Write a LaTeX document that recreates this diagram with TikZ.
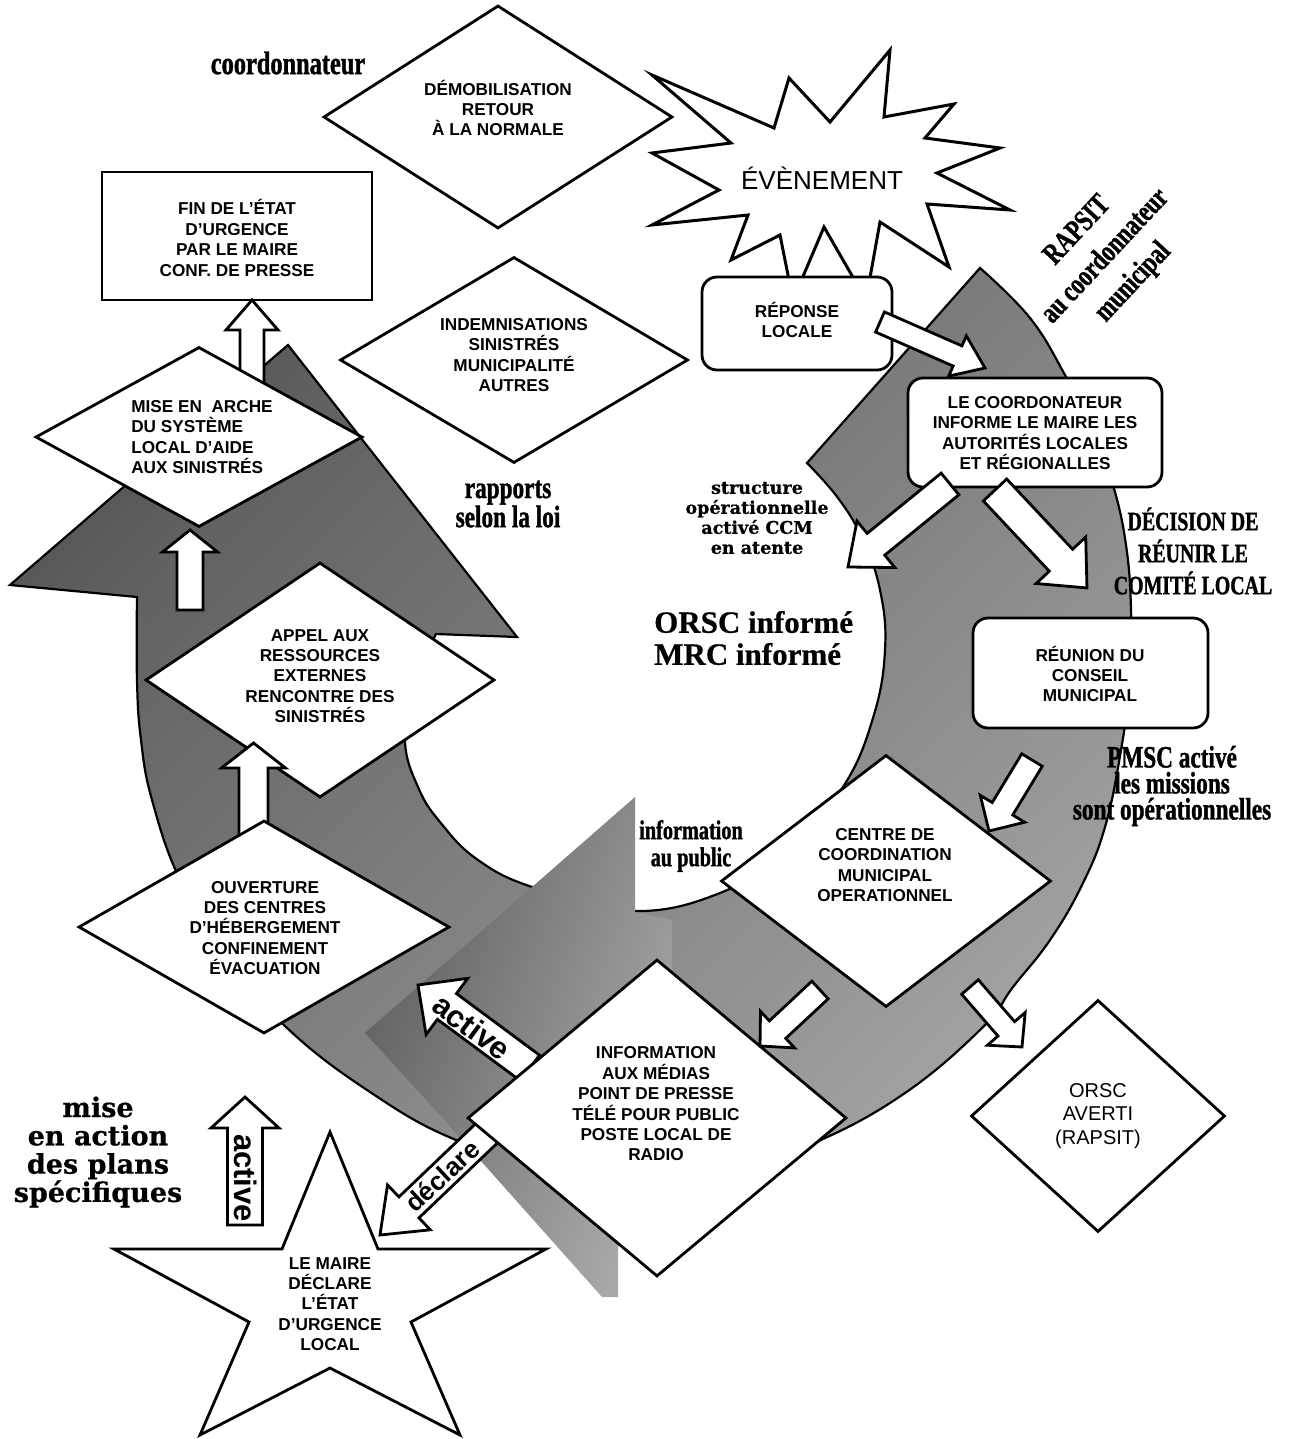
\documentclass[tikz,border=0pt]{standalone}
\usepackage{fontspec}
\setsansfont{Liberation Sans}
\newfontfamily\cserif[FakeStretch=0.75,FakeBold=1.2]{Liberation Serif}
\newfontfamily\nserif[FakeBold=0.6]{Liberation Serif}
\newfontfamily\wserif[FakeBold=0.6]{DejaVu Serif}
\usetikzlibrary{shapes.geometric}
\pgfdeclareverticalshading{ringshade}{100bp}{color(0bp)=(black!22); color(30bp)=(black!40); color(70bp)=(black!62); color(100bp)=(black!86)}
\pgfdeclareverticalshading{shadowshade}{100bp}{color(0bp)=(black!18); color(100bp)=(black!78)}

% block arrow: [style]{tail x}{tail y}{tip x}{tip y}{shaft half width}{head half width}{head length}
\newcommand\barrow[8][]{%
  \pgfmathsetmacro\baDX{#4-#2}%
  \pgfmathsetmacro\baNDY{#3-#5}%
  \pgfmathsetmacro\baANG{atan2(\baNDY,\baDX)}%
  \pgfmathsetmacro\baLEN{veclen(\baDX,\baNDY)}%
  \pgfmathsetmacro\baBASE{\baLEN-#8}%
  \begin{scope}[shift={(#2,#3)},rotate=\baANG]
    \draw[blk,#1] (0,#6) -- (\baBASE,#6) -- (\baBASE,#7) -- (\baLEN,0) -- (\baBASE,-#7) -- (\baBASE,-#6) -- (0,-#6) -- cycle;
  \end{scope}}

\begin{document}
\begin{tikzpicture}[x=1pt,y=-1pt,
  shp/.style={draw=black, line width=2.8pt, fill=white},
  diam/.style={shp, diamond, inner sep=0pt},
  rbox/.style={shp, rectangle, rounded corners=15pt, inner sep=0pt},
  sbox/.style={shp, rectangle, inner sep=0pt},
  txt/.style={align=center, inner sep=0pt, font=\sffamily\bfseries\fontsize{17.2}{20.4}\selectfont},
  rtxt/.style={align=center, inner sep=0pt, font=\sffamily\fontsize{20}{23.5}\selectfont},
  lab/.style={align=center, inner sep=0pt},
  blk/.style={draw=black, line width=2.8pt, fill=white, line join=miter},
  atxt/.style={inner sep=0pt, font=\sffamily\bfseries\fontsize{31}{31}\selectfont},
]
\useasboundingbox (0,0) rectangle (1288,1439);
\fill[white] (0,0) rectangle (1288,1439);

% ---------- big circular arrow ----------
\path[draw=black, line width=2.2pt, line join=miter, shading=ringshade, shading angle=45]
  plot[smooth, tension=0.7] coordinates {(980,268) (1030,318) (1065,375) (1093,430) (1113,485) (1126,545) (1131,610) (1130,680) (1121,750) (1105,827) (1082,885) (1050,940) (1013,987) (983,1027) (905,1093) (814,1143) (730,1170) (640,1178) (551,1167) (456,1140) (370,1092) (286,1027) (225,955) (180,880) (152,800) (141,740) (137,680) (137,597)}
  -- (10,585) -- (288,345) -- (517,637) -- (436,634)
  -- plot[smooth, tension=0.7] coordinates {(436,634) (412,690) (405,742) (418,787) (440,822) (478,860) (535,888) (630,911) (720,893) (790,848) (843,787) (873,718) (885,650) (880,590) (862,538) (838,498) (807,463)}
  -- cycle;

% ---------- shadow ----------
\path[shading=shadowshade, shading angle=70]
  (365,1033) -- (635,797) -- (635,912) -- (672,920) -- (672,1010) -- (618,1240) -- (618,1297) -- (602,1297) -- (440,1115) -- cycle;

% ---------- event starburst ----------
\draw[line width=3pt, fill=white, line join=miter]
  (890,50) -- (884,117) -- (954,104) -- (925,138) -- (1000,148) -- (937,173) -- (1010,210) -- (927,204) -- (949,267) -- (880,222) -- (866,300) -- (824,227) -- (793,300) -- (780,235) -- (731,260) -- (748,215) -- (652,225) -- (719,190) -- (652,153) -- (731,143) -- (652,75) -- (774,128) -- (789,78) -- (830,122) -- cycle;
\node[inner sep=0pt, font=\sffamily\fontsize{26}{26}\selectfont] (evt) at (822,178) {ÉVÈNEMENT};

% ---------- top left ----------
\node[diam, minimum width=349pt, minimum height=223pt] (demob) at (498,117) {};
\node[txt] (demobt) at (498,108) {DÉMOBILISATION\\RETOUR\\À LA NORMALE};

\node[sbox, minimum width=270pt, minimum height=128pt] (fin) at (237,236) {};
\node[txt] (fint) at (237,238) {FIN DE L’ÉTAT\\D’URGENCE\\PAR LE MAIRE\\CONF. DE PRESSE};

\node[diam, minimum width=348pt, minimum height=206pt] (indem) at (514,360) {};
\node[txt] (indemt) at (514,355) {INDEMNISATIONS\\SINISTRÉS\\MUNICIPALITÉ\\AUTRES};

\barrow{252}{395}{252}{300}{12}{26}{30}
\node[diam, minimum width=327pt, minimum height=180pt] (mise) at (199,437) {};
\node[txt, align=left] (miset) at (202,437) {MISE EN\ \ ARCHE\\DU SYSTÈME\\LOCAL D’AIDE\\AUX SINISTRÉS};

\barrow{190}{610}{190}{530}{13}{27.5}{22}

\node[diam, minimum width=349pt, minimum height=235pt] (appel) at (320,680) {};
\node[txt] (appelt) at (320,676) {APPEL AUX\\RESSOURCES\\EXTERNES\\RENCONTRE DES\\SINISTRÉS};

\barrow{253.5}{845}{253.5}{743}{14.5}{32}{25}
\node[diam, minimum width=371pt, minimum height=213pt] (ouvert) at (264,927) {};
\node[txt] (ouvertt) at (265,928) {OUVERTURE\\DES CENTRES\\D’HÉBERGEMENT\\CONFINEMENT\\ÉVACUATION};

% ---------- right side ----------
\node[rbox, minimum width=190pt, minimum height=93pt] (rep) at (797,323.5) {};
\node[txt] (rept) at (797,320) {RÉPONSE\\LOCALE};
\barrow{880}{322}{985}{368}{11}{22}{30}

\node[rbox, minimum width=254pt, minimum height=109pt] (coord) at (1035,432.5) {};
\node[txt] (coordt) at (1035,433) {LE COORDONATEUR\\INFORME LE MAIRE LES\\AUTORITÉS LOCALES\\ET RÉGIONALLES};
\barrow{950}{484}{848}{567}{14}{30}{36}
\barrow{995}{490}{1087}{588}{16}{34}{38}

\node[rbox, minimum width=235pt, minimum height=110pt] (reun) at (1090.5,673) {};
\node[txt] (reunt) at (1090,674) {RÉUNION DU\\CONSEIL\\MUNICIPAL};

\node[diam, minimum width=330pt, minimum height=252pt] (centre) at (886,881) {};
\node[txt] (centret) at (885,865) {CENTRE DE\\COORDINATION\\MUNICIPAL\\OPERATIONNEL};
\barrow{1032}{760}{989}{831}{12}{26}{26}

% ---------- bottom ----------
\barrow{530}{1068}{418}{985}{16}{35}{36}
\barrow{490}{1130}{380}{1235}{14.5}{31}{40}
\node[diam, minimum width=379pt, minimum height=317pt] (info) at (657,1118) {};
\node[txt] (infot) at (656,1104) {INFORMATION\\AUX MÉDIAS\\POINT DE PRESSE\\TÉLÉ POUR PUBLIC\\POSTE LOCAL DE\\RADIO};
\node[atxt, rotate=-36.5] (act1) at (472,1027) {active};
\node[atxt, rotate=43, font=\sffamily\bfseries\fontsize{26}{26}\selectfont] (decl) at (442,1176) {déclare};

\barrow{820}{990}{760}{1046}{12}{25}{24}
\barrow{970}{987}{1022}{1047}{11}{25}{24}
\node[diam, minimum width=254pt, minimum height=232pt] (orsc) at (1098,1116) {};
\node[rtxt] (orsct) at (1098,1116) {ORSC\\AVERTI\\(RAPSIT)};

\draw[line width=2.8pt, fill=white, line join=miter]
  (330,1132) -- (378,1249) -- (546,1249) -- (411,1322) -- (460,1435) -- (330,1368) -- (200,1435) -- (249,1322) -- (114,1249) -- (282,1249) -- cycle;
\node[txt] (mairet) at (330,1304) {LE MAIRE\\DÉCLARE\\L’ÉTAT\\D’URGENCE\\LOCAL};

\barrow{245}{1225}{245}{1097}{17.5}{34}{31}
\node[atxt, rotate=-90, font=\sffamily\bfseries\fontsize{31}{31}\selectfont] (act2) at (246,1178) {active};

% ---------- free labels ----------
\node[lab, font=\cserif\bfseries\fontsize{32.5}{32}\selectfont] (l1) at (288,63) {coordonnateur};
\node[lab, font=\cserif\bfseries\fontsize{31}{28}\selectfont] (l2) at (508,504) {rapports\\selon la loi};
\node[lab, font=\wserif\bfseries\fontsize{17.5}{20}\selectfont] (l3) at (757,518) {structure\\opérationnelle\\activé CCM\\en atente};
\node[lab, anchor=west, align=left, font=\nserif\bfseries\fontsize{31}{32}\selectfont] (l4) at (654,638) {ORSC informé\\MRC informé};
\node[lab, font=\cserif\bfseries\fontsize{27}{27}\selectfont] (l5) at (691,846) {information\\au public};
\node[lab, font=\cserif\bfseries\fontsize{26.5}{32}\selectfont] (l6) at (1193,551) {DÉCISION DE\\RÉUNIR LE\\COMITÉ LOCAL};
\node[lab, font=\cserif\bfseries\fontsize{31}{26}\selectfont] (l7) at (1172,786) {PMSC activé\\les missions\\sont opérationnelles};
\node[lab, rotate=47, font=\cserif\bfseries\fontsize{30}{38}\selectfont] (l8) at (1106,257) {RAPSIT\\au coordonnateur\\municipal};
\node[lab, font=\wserif\bfseries\fontsize{27}{28.3}\selectfont] (l9) at (98,1152) {mise\\en action\\des plans\\spécifiques};
\end{tikzpicture}
\end{document}
